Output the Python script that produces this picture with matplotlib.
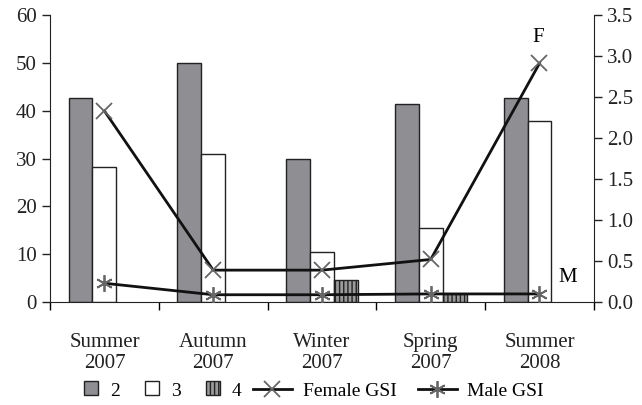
import numpy as np
import matplotlib.pyplot as plt
from matplotlib.patches import Patch, Rectangle
from matplotlib.lines import Line2D
from matplotlib.legend_handler import HandlerPatch

plt.rcParams['font.family'] = ['Liberation Serif', 'DejaVu Serif']

# Data
seasons = ["Summer\n2007", "Autumn\n2007", "Winter\n2007", "Spring\n2007", "Summer\n2008"]
stage2 = [42.6, 50.0, 30.0, 41.4, 42.6]
stage3 = [28.2, 31.0, 10.5, 15.5, 37.8]
stage4 = [0.0, 0.0, 4.6, 1.8, 0.0]
female_gsi = [2.33, 0.39, 0.39, 0.52, 2.91]
male_gsi = [0.23, 0.09, 0.09, 0.10, 0.10]

x = np.arange(len(seasons))
w = 0.22
dark = "#8e8e93"
edge = "#222222"
fs = 15
lfs = 14

fig = plt.figure(figsize=(6.42, 4.05), dpi=100)
ax = fig.add_axes([0.078, 0.254, 0.847, 0.709])

ax.bar(x - w, stage2, w, color=dark, edgecolor=edge, linewidth=1)
ax.bar(x, stage3, w, color="white", edgecolor=edge, linewidth=1)
s4 = np.array(stage4)
ax.bar((x + w)[s4 > 0], s4[s4 > 0], w, color="#9a9a9a", edgecolor=edge, linewidth=1, hatch="||||")

ax.set_xlim(-0.5, len(seasons) - 0.5)
ax.set_ylim(0, 60)
ax.set_yticks(range(0, 61, 10))
ax.set_xticks(np.arange(-0.5, len(seasons), 1.0))
ax.set_xticklabels([])
ax.set_xticks(x, minor=True)
ax.set_xticklabels(seasons, minor=True, fontsize=fs, color=edge, linespacing=1.2)
ax.tick_params(axis="x", which="minor", length=0, pad=22)
ax.tick_params(axis="x", which="major", length=6, direction="out", width=1)
ax.tick_params(axis="y", length=6, width=1, labelsize=fs, colors=edge)
for s in ["top", "right"]:
    ax.spines[s].set_visible(False)
for s in ["left", "bottom"]:
    ax.spines[s].set_color(edge)

ax2 = ax.twinx()
ax2.set_ylim(0, 3.5)
ax2.set_yticks(np.arange(0, 3.51, 0.5))
ax2.set_yticklabels([f"{v:.1f}" for v in np.arange(0, 3.51, 0.5)])
ax2.tick_params(axis="y", length=6, width=1, labelsize=fs, colors=edge)
for s in ["top", "left", "bottom"]:
    ax2.spines[s].set_visible(False)
ax2.spines["right"].set_color(edge)

ax2.plot(x, female_gsi, color="#111111", linewidth=2, marker="x", markersize=11,
         markeredgecolor="#666666", markeredgewidth=1.3)
ax2.plot(x, male_gsi, color="#111111", linewidth=2, marker=(6, 2, 0), markersize=12,
         markeredgecolor="#666666", markeredgewidth=1.3)
ax2.text(x[-1] - 0.01, female_gsi[-1] + 0.2, "F", fontsize=fs, ha="center", va="bottom")
ax2.text(x[-1] + 0.26, male_gsi[-1] + 0.08, "M", fontsize=fs, ha="center", va="bottom")


def square(legend, orig_handle, xdescent, ydescent, width, height, fontsize):
    side = 0.72 * fontsize
    return Rectangle((width - side, (height - side) / 2 + 0.5), side, side)


bar_handles = [
    Patch(facecolor=dark, edgecolor=edge),
    Patch(facecolor="white", edgecolor=edge),
    Patch(facecolor="#9a9a9a", edgecolor=edge, hatch="||||"),
]
line_handles = [
    Line2D([], [], color="#111111", lw=2, marker="x", markersize=11,
           markeredgecolor="#666666", markeredgewidth=1.3),
    Line2D([], [], color="#111111", lw=2, marker=(6, 2, 0), markersize=12,
           markeredgecolor="#666666", markeredgewidth=1.3),
]
fig.legend(bar_handles, ["2", "3", "4"], loc="center left",
           bbox_to_anchor=(0.131, 0.035), ncol=3, frameon=False, fontsize=lfs,
           handlelength=0.72, handletextpad=0.6, columnspacing=1.3,
           borderpad=0, borderaxespad=0,
           handler_map={Patch: HandlerPatch(patch_func=square)})
fig.legend(line_handles, ["Female GSI", "Male GSI"], loc="center left",
           bbox_to_anchor=(0.394, 0.035), ncol=2, frameon=False, fontsize=lfs,
           handlelength=2.0, handletextpad=0.55, columnspacing=1.1,
           borderpad=0, borderaxespad=0)

fig.savefig("out.png", dpi=100)
